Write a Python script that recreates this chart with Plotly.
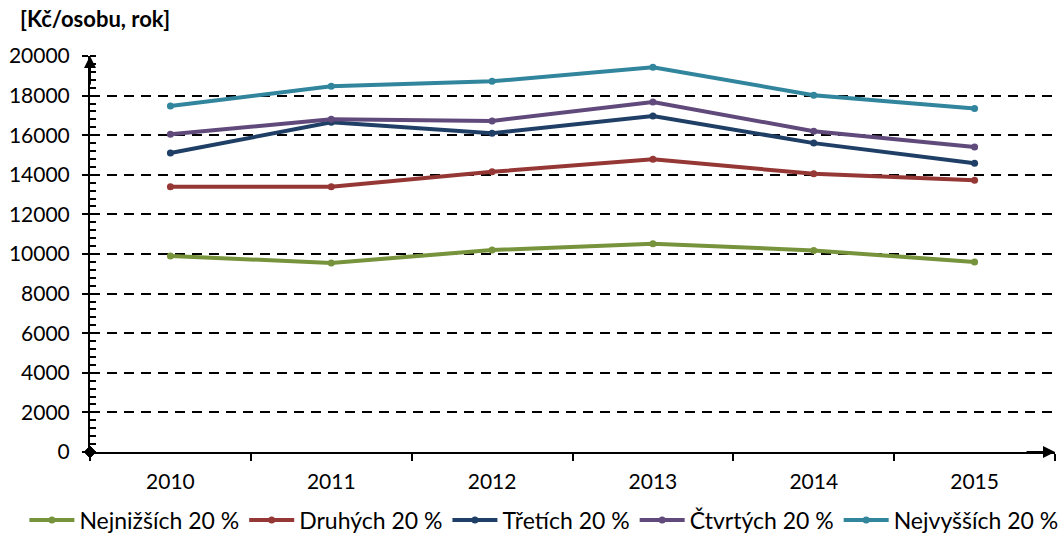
import plotly.graph_objects as go

years = ["2010", "2011", "2012", "2013", "2014", "2015"]

nejnizsich = [9900, 9550, 10200, 10520, 10180, 9600]
druhych = [13400, 13400, 14150, 14780, 14050, 13730]
tretich = [15100, 16650, 16100, 16970, 15600, 14580]
ctvrtych = [16050, 16800, 16720, 17680, 16200, 15400]
nejvyssich = [17480, 18470, 18720, 19430, 18020, 17350]

series_names = ["Nejnižších 20 %", "Druhých 20 %", "Třetích 20 %", "Čtvrtých 20 %", "Nejvyšších 20 %"]
series_values = [nejnizsich, druhych, tretich, ctvrtych, nejvyssich]
colors = ["#77933C", "#953735", "#1F3F66", "#604A7B", "#31859C"]

FONT = "Lato"

fig = go.Figure()
for name, vals, col in zip(series_names, series_values, colors):
    fig.add_trace(go.Scatter(
        x=years, y=vals, name=name, mode="lines+markers",
        line=dict(color=col, width=4),
        marker=dict(color=col, size=7, symbol="circle"),
    ))

fig.update_layout(
    width=1059, height=533,
    margin=dict(l=90, r=4, t=56, b=81, autoexpand=False),
    paper_bgcolor="white", plot_bgcolor="white",
    font=dict(family=FONT, size=21, color="black"),
    showlegend=True,
    legend=dict(
        orientation="h", x=-0.068, xanchor="left", y=-0.172, yanchor="middle",
        font=dict(family=FONT, size=23, color="black"),
        itemwidth=45, tracegroupgap=0, bgcolor="rgba(0,0,0,0)",
    ),
)

fig.update_xaxes(
    type="category", range=[-0.5, 5.5], automargin=False,
    showline=True, linecolor="black", linewidth=2,
    showgrid=False, zeroline=False,
    ticks="outside", tickson="boundaries", ticklen=7, tickwidth=2, tickcolor="black",
    ticklabelstandoff=10,
    tickfont=dict(family=FONT, size=21),
)

fig.update_yaxes(
    range=[0, 20000], dtick=2000, tick0=0, tickformat="d", automargin=False,
    showline=True, linecolor="black", linewidth=2,
    showgrid=True, gridcolor="black", gridwidth=2, griddash="10px,7px",
    zeroline=False,
    ticks="outside", ticklen=6, tickwidth=2, tickcolor="black",
    ticklabelstandoff=8,
    tickfont=dict(family=FONT, size=21),
    minor=dict(dtick=400, ticks="inside", ticklen=6, tickwidth=1.5, tickcolor="black", showgrid=False),
)

# axis title placed above the value axis
fig.add_annotation(
    text="<b>[Kč/osobu, rok]</b>", xref="paper", yref="paper",
    x=-0.075, y=1.0, xanchor="left", yanchor="bottom", yshift=22,
    showarrow=False, font=dict(family=FONT, size=22, color="black"),
)

# arrow heads at the end of both axes
fig.add_annotation(
    xref="paper", yref="paper", x=0, y=1.0, ax=0, ay=30, axref="pixel", ayref="pixel",
    showarrow=True, arrowhead=2, arrowsize=1.2, arrowwidth=2, arrowcolor="black", text="",
)
fig.add_annotation(
    xref="paper", yref="paper", x=1.0, y=0, ax=-30, ay=0, axref="pixel", ayref="pixel",
    showarrow=True, arrowhead=2, arrowsize=1.2, arrowwidth=2, arrowcolor="black", text="",
)
# diamond at the origin
fig.add_shape(
    type="path", xref="paper", yref="paper",
    path="M -0.006 0 L 0 0.015 L 0.006 0 L 0 -0.015 Z",
    fillcolor="black", line=dict(color="black", width=1),
)

fig.write_html("out.html")
